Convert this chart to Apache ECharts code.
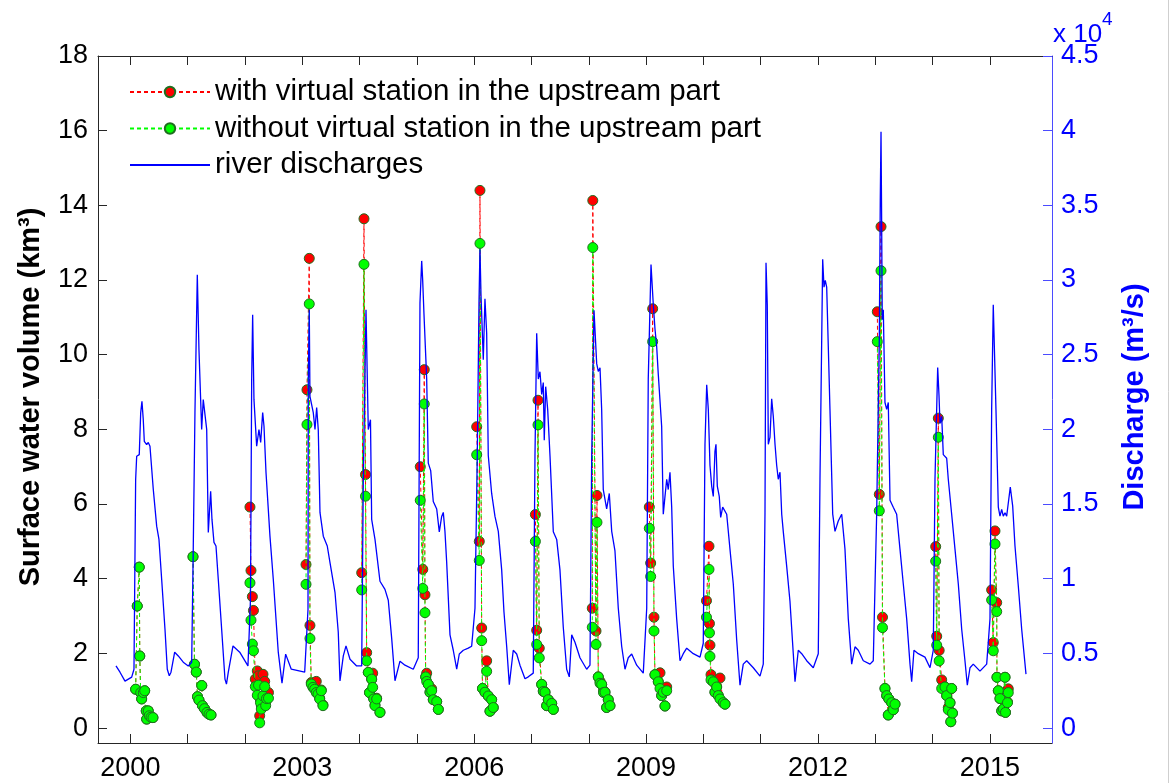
<!DOCTYPE html>
<html><head><meta charset="utf-8">
<script src="https://cdn.jsdelivr.net/npm/echarts@6/dist/echarts.min.js"></script>
<style>html,body{margin:0;padding:0;background:#fff}#c{width:1172px;height:783px}</style>
</head><body><div id="c"></div>
<script>
// ---------- data ----------
const tickYears = [2000,2001,2002,2003,2004,2005,2006,2007,2008,2009,2010,2011,2012,2013,2014,2015];
const labelYears = [2000,2003,2006,2009,2012,2015];
const volumeTicks = [0,2,4,6,8,10,12,14,16,18];
const dischargeTicks = [0,5000,10000,15000,20000,25000,30000,35000,40000,45000];
const seriesNames = ['with virtual station in the upstream part','without virtual station in the upstream part','river discharges'];

// river discharge [decimal year, m3/s]
const discharge = [
[1999.749,4160],[1999.819,3740],[1999.906,3140],[2000.023,3410],[2000.063,3940],[2000.092,16640],[2000.110,18200],[2000.155,18310],[2000.180,21100],[2000.202,21880],[2000.225,20650],[2000.243,19200],[2000.284,18980],[2000.312,19120],[2000.342,18870],[2000.400,15970],[2000.459,13520],[2000.499,12630],[2000.546,9960],[2000.604,6620],[2000.644,3940],[2000.679,3500],[2000.709,3740],[2000.773,5080],[2000.836,4830],[2000.923,4410],[2001.010,4160],[2001.070,4410],[2001.098,12190],[2001.127,21120],[2001.168,30350],
[2001.197,25330],[2001.244,19990],[2001.272,21990],[2001.302,22120],[2001.332,19990],[2001.360,13100],[2001.401,15860],[2001.424,13970],[2001.459,12430],[2001.494,12190],[2001.534,9960],[2001.593,6620],[2001.651,3280],[2001.677,2940],[2001.709,3740],[2001.791,5500],[2001.908,5080],[2002.052,4160],[2002.096,8620],[2002.117,23330],[2002.134,27670],
[2002.157,21990],[2002.204,18870],[2002.244,19990],[2002.274,19120],[2002.309,21120],[2002.332,20210],[2002.367,17110],[2002.436,12850],[2002.494,9960],[2002.581,5080],[2002.646,3010],[2002.710,4950],[2002.808,3940],[2003.042,3740],[2003.100,7950],[2003.105,23330],[2003.122,28010],
[2003.134,22210],[2003.192,21120],[2003.222,19990],[2003.251,21460],[2003.279,19990],[2003.309,14440],[2003.367,12850],[2003.436,12190],[2003.483,11100],[2003.571,9090],[2003.628,6420],[2003.658,3160],[2003.716,4830],[2003.763,5500],[2003.833,4610],[2003.949,4160],[2004.037,4160],[2004.065,16640],[2004.112,28010],
[2004.152,19990],[2004.190,20650],[2004.211,13970],[2004.269,12630],[2004.356,9830],[2004.443,9290],[2004.501,8560],[2004.560,6020],[2004.618,3170],[2004.705,4480],[2004.792,4210],[2004.937,3940],[2005.024,4710],[2005.054,28470],[2005.084,31280],
[2005.101,30010],[2005.124,27710],[2005.154,27840],[2005.171,23390],[2005.199,17740],[2005.241,17240],[2005.286,15170],[2005.346,14670],[2005.391,13140],[2005.433,14170],[2005.461,14440],[2005.490,13170],[2005.520,11100],[2005.578,6240],[2005.635,5210],[2005.695,3940],[2005.740,4960],[2005.810,5210],[2005.897,5350],[2005.956,5480],[2006.014,8020],[2006.054,18250],[2006.084,28470],[2006.101,32060],
[2006.119,29010],[2006.159,24660],[2006.188,28740],[2006.218,26430],[2006.246,18250],[2006.305,15710],[2006.363,14170],[2006.421,13170],[2006.480,10590],[2006.520,7770],[2006.567,5480],[2006.613,2910],[2006.682,5210],[2006.742,4960],[2006.799,4210],[2006.887,3300],[2006.944,3430],[2007.031,3680],[2007.061,18250],[2007.091,26430],
[2007.119,23370],[2007.148,23860],[2007.178,22340],[2007.206,23130],[2007.223,19280],[2007.248,22860],[2007.283,21320],[2007.323,18250],[2007.381,13140],[2007.440,12630],[2007.497,10590],[2007.555,6750],[2007.614,3940],[2007.660,3430],[2007.702,6240],[2007.759,5750],[2007.846,4710],[2007.963,3940],[2008.021,4210],[2008.051,18250],[2008.091,27970],
[2008.138,24400],[2008.166,23880],[2008.196,24130],[2008.225,21320],[2008.253,15970],[2008.312,14670],[2008.358,15710],[2008.400,13170],[2008.457,11860],[2008.515,8020],[2008.574,5480],[2008.632,3940],[2008.689,4710],[2008.749,4960],[2008.836,4210],[2008.951,3680],[2009.011,8020],[2009.038,23370],[2009.086,31030],
[2009.126,28340],[2009.155,26740],[2009.185,25540],[2009.213,23680],[2009.243,23680],[2009.272,20190],[2009.300,14320],[2009.330,15510],[2009.360,16660],[2009.387,15970],[2009.417,17130],[2009.447,14790],[2009.475,10830],[2009.534,7310],[2009.592,4510],[2009.649,4980],[2009.709,5350],[2009.824,4980],[2009.941,4750],[2009.998,5680],[2010.028,19000],[2010.058,22990],
[2010.086,21340],[2010.115,17600],[2010.145,16200],[2010.173,15510],[2010.202,18530],[2010.220,19000],[2010.243,16200],[2010.277,15510],[2010.302,14100],[2010.337,14790],[2010.407,14320],[2010.464,11980],[2010.522,9650],[2010.581,5910],[2010.639,2870],[2010.696,4280],[2010.756,4510],[2010.871,4040],[2010.988,3480],[2011.045,4280],[2011.075,14320],[2011.093,31150],
[2011.115,28340],[2011.133,19000],[2011.162,19460],[2011.192,22040],[2011.220,20870],[2011.250,19000],[2011.279,17600],[2011.307,16660],[2011.337,17130],[2011.367,14320],[2011.394,13170],[2011.454,10830],[2011.511,8490],[2011.569,4980],[2011.599,3110],[2011.656,5210],[2011.716,4980],[2011.803,4510],[2011.918,4040],[2012.005,4980],[2012.035,16660],[2012.082,31390],
[2012.105,29520],[2012.127,29980],[2012.152,29520],[2012.180,25540],[2012.209,21340],[2012.257,14320],[2012.297,13170],[2012.354,13860],[2012.414,14320],[2012.471,11980],[2012.529,7310],[2012.588,4280],[2012.646,5440],[2012.703,5210],[2012.791,4510],[2012.908,4280],[2012.965,4510],[2013.024,14320],[2013.070,26010],[2013.087,35360],[2013.100,39920],
[2013.112,33350],[2013.122,27340],[2013.140,28010],[2013.169,21800],[2013.199,21340],[2013.227,21800],[2013.257,15260],[2013.314,14790],[2013.373,14320],[2013.431,11980],[2013.489,9650],[2013.548,7310],[2013.606,4280],[2013.635,3110],[2013.675,5210],[2013.750,4980],[2013.867,4750],[2013.955,4040],[2014.012,5210],[2014.042,16660],[2014.089,24140],
[2014.112,22270],[2014.129,20400],[2014.159,20870],[2014.187,18310],[2014.246,18070],[2014.274,16660],[2014.333,14320],[2014.391,11980],[2014.449,9650],[2014.508,6620],[2014.565,4510],[2014.606,2870],[2014.653,4040],[2014.710,4280],[2014.827,3810],[2014.944,4280],[2015.002,7310],[2015.031,21340],[2015.059,28340],
[2015.106,21340],[2015.147,14790],[2015.176,14190],[2015.206,14640],[2015.234,14190],[2015.264,14420],[2015.293,14190],[2015.321,14100],[2015.356,16140],[2015.398,14860],[2015.438,12190],[2015.496,9510],[2015.555,6620],[2015.630,3610]
];

// surface water volume [decimal year, with VS (km3), without VS (km3)]; null = gap between years
const volumeRows = [
[2000.092,1.04,1.04],[2000.120,3.27,3.27],[2000.155,4.31,4.31],[2000.164,1.93,1.93],[2000.180,0.95,0.95],[2000.197,0.78,0.78],[2000.225,0.95,0.95],[2000.250,1.00,1.00],[2000.277,0.46,0.46],[2000.284,0.24,0.24],[2000.312,0.46,0.46],[2000.330,0.33,0.33],[2000.360,0.29,0.29],[2000.394,0.28,0.28],
null,
[2001.093,4.59,4.59],[2001.119,1.71,1.71],[2001.150,1.50,1.50],[2001.171,0.84,0.84],[2001.197,0.75,0.75],[2001.246,1.14,1.14],[2001.258,0.60,0.60],[2001.293,0.52,0.52],[2001.337,0.42,0.42],[2001.372,0.37,0.37],[2001.407,0.35,0.35],
null,
[2002.087,5.92,3.89],[2002.105,4.22,2.89],[2002.129,3.52,2.25],[2002.148,3.15,2.07],[2002.180,1.31,1.11],[2002.215,1.53,0.88],[2002.236,1.40,1.15],[2002.257,0.33,0.14],[2002.271,0.75,0.68],[2002.285,0.60,0.51],[2002.314,1.44,0.86],[2002.344,1.25,1.11],[2002.361,0.70,0.60],[2002.375,0.86,0.79],[2002.410,0.95,0.80],
null,
[2003.065,4.38,3.85],[2003.082,9.06,8.13],[2003.122,12.58,11.36],[2003.134,2.75,2.40],[2003.157,1.22,1.18],[2003.187,1.10,1.09],[2003.216,1.05,1.04],[2003.244,1.25,0.95],[2003.274,0.92,0.91],[2003.304,0.80,0.78],[2003.332,1.02,1.00],[2003.361,0.62,0.60],
null,
[2004.037,4.16,3.70],[2004.077,13.64,12.42],[2004.103,6.79,6.21],[2004.124,2.02,1.80],[2004.152,1.49,1.49],[2004.173,0.95,0.95],[2004.211,1.31,1.31],[2004.229,1.47,1.09],[2004.246,0.80,0.78],[2004.269,0.62,0.60],[2004.298,0.80,0.78],[2004.356,0.42,0.42],
null,
[2005.059,7.00,6.10],[2005.103,4.25,3.74],[2005.129,9.60,8.68],[2005.141,3.57,3.09],[2005.154,1.37,1.37],[2005.171,1.47,1.25],[2005.199,1.17,1.17],[2005.229,0.96,0.96],[2005.258,1.05,1.00],[2005.286,0.76,0.76],[2005.346,0.71,0.71],[2005.374,0.50,0.50],
null,
[2006.044,8.07,7.32],[2006.089,5.00,4.49],[2006.101,14.40,12.98],[2006.131,2.68,2.34],[2006.145,1.06,1.06],[2006.188,0.96,0.96],[2006.218,1.80,1.52],[2006.246,0.86,0.86],[2006.276,0.45,0.45],[2006.305,0.76,0.76],[2006.333,0.55,0.55],
null,
[2007.068,5.72,5.00],[2007.091,2.62,2.24],[2007.114,8.78,8.12],[2007.136,2.14,1.88],[2007.178,1.17,1.17],[2007.206,1.00,0.98],[2007.236,0.96,0.96],[2007.265,0.60,0.60],[2007.293,0.76,0.76],[2007.353,0.66,0.66],[2007.381,0.50,0.50],
null,
[2008.061,3.21,2.70],[2008.070,14.13,12.87],[2008.126,2.60,2.24],[2008.143,6.23,5.51],[2008.166,1.37,1.37],[2008.196,1.25,1.20],[2008.225,1.17,1.17],[2008.257,1.00,0.95],[2008.283,0.96,0.96],[2008.312,0.55,0.55],[2008.340,0.76,0.76],[2008.370,0.60,0.60],
null,
[2009.056,5.92,5.35],[2009.080,4.42,4.06],[2009.115,11.23,10.35],[2009.138,2.97,2.60],[2009.155,1.43,1.43],[2009.213,1.24,1.24],[2009.243,1.48,1.06],[2009.272,0.87,0.87],[2009.300,0.96,0.96],[2009.330,0.59,0.59],[2009.360,1.10,1.00],
null,
[2010.054,3.41,2.97],[2010.098,4.87,4.25],[2010.106,2.80,2.55],[2010.115,2.22,1.92],[2010.133,1.43,1.29],[2010.173,1.24,1.24],[2010.202,0.96,0.96],[2010.232,1.10,1.10],[2010.260,0.87,0.87],[2010.290,1.34,0.78],[2010.347,0.68,0.68],[2010.377,0.64,0.64],
null,
[2013.035,11.15,10.35],[2013.070,6.26,5.82],[2013.100,13.43,12.25],[2013.126,2.97,2.69],[2013.169,1.06,1.06],[2013.199,0.87,0.87],[2013.227,0.35,0.35],[2013.236,0.78,0.78],[2013.286,0.68,0.68],[2013.314,0.49,0.49],[2013.344,0.64,0.64],
null,
[2014.054,4.86,4.47],[2014.072,2.46,2.22],[2014.100,8.30,7.79],[2014.115,2.08,1.80],[2014.159,1.29,1.06],[2014.216,1.10,1.10],[2014.246,0.87,0.87],[2014.274,0.55,0.49],[2014.304,0.68,0.68],[2014.318,0.17,0.17],[2014.333,1.06,1.06],[2014.347,0.40,0.40],
null,
[2015.031,3.70,3.43],[2015.059,2.29,2.07],[2015.089,5.28,4.93],[2015.119,3.36,3.12],[2015.124,1.36,1.36],[2015.147,1.00,1.00],[2015.176,0.79,0.79],[2015.206,0.46,0.46],[2015.234,0.51,0.51],[2015.264,1.36,1.36],[2015.272,0.42,0.42],[2015.307,0.70,0.68],[2015.321,1.05,0.95]
];

// ---------- chart ----------
const FONT = '"Liberation Sans", Arial, Helvetica, sans-serif';
const AXIS_BLACK = '#262626';
const BLUE = '#0000ff';
const X_MIN = 1999.435, X_MAX = 2016.084;

const withData = volumeRows.map(r => r ? [r[0], r[1]] : [null, null]);
const withoutData = volumeRows.map(r => r ? [r[0], r[2]] : [null, null]);

const xAxisCommon = {
  type: 'value', min: X_MIN, max: X_MAX,
  axisLine: {show: true, onZero: false, lineStyle: {color: AXIS_BLACK, width: 1}},
  axisTick: {show: true, inside: true, length: 9, customValues: tickYears, lineStyle: {color: AXIS_BLACK, width: 1}},
  splitLine: {show: false}
};

const chart = echarts.init(document.getElementById('c'), null, {renderer: 'canvas'});
chart.setOption({
  animation: false,
  backgroundColor: '#ffffff',
  textStyle: {fontFamily: FONT},
  grid: {left: 98, top: 56, width: 954, height: 687, show: false},
  legend: {
    orient: 'vertical', left: 129, top: 77, padding: 0,
    itemWidth: 80, itemHeight: 13, itemGap: 6.5,
    textStyle: {fontSize: 29.5, color: '#000', fontFamily: FONT},
    data: [
      {name: seriesNames[0]},
      {name: seriesNames[1]},
      {name: seriesNames[2], itemStyle: {color: 'rgba(0,0,0,0)', borderWidth: 0, opacity: 0}}
    ]
  },
  xAxis: [
    Object.assign({}, xAxisCommon, {
      position: 'bottom',
      axisLabel: {customValues: labelYears, fontSize: 27, color: '#000', margin: 12, fontFamily: FONT, formatter: v => String(Math.round(v))}
    }),
    Object.assign({}, xAxisCommon, {
      position: 'top',
      axisLabel: {show: false}
    })
  ],
  yAxis: [
    {
      type: 'value', min: -0.4, max: 18, position: 'left',
      axisLine: {show: true, onZero: false, lineStyle: {color: AXIS_BLACK, width: 1}},
      axisTick: {show: true, inside: true, length: 9, customValues: volumeTicks, lineStyle: {color: AXIS_BLACK}},
      axisLabel: {customValues: volumeTicks, fontSize: 27, color: '#000', margin: 10, fontFamily: FONT},
      splitLine: {show: false}
    },
    {
      type: 'value', min: -1000, max: 45000, position: 'right',
      axisLine: {show: true, onZero: false, lineStyle: {color: '#4b4bff', width: 1}},
      axisTick: {show: true, inside: true, length: 9, customValues: dischargeTicks, lineStyle: {color: '#4b4bff'}},
      axisLabel: {customValues: dischargeTicks, fontSize: 27, color: BLUE, margin: 9, fontFamily: FONT, formatter: v => String(v / 10000)},
      splitLine: {show: false}
    }
  ],
  series: [
    {
      name: seriesNames[0], type: 'line', xAxisIndex: 0, yAxisIndex: 0, z: 2,
      data: withData, connectNulls: false,
      symbol: 'circle', symbolSize: 10, showAllSymbol: true,
      lineStyle: {color: '#ff0000', width: 1, type: [4, 3]},
      itemStyle: {color: '#ff0000', borderColor: '#1f6f1f', borderWidth: 1},
      emphasis: {disabled: true}
    },
    {
      name: seriesNames[1], type: 'line', xAxisIndex: 0, yAxisIndex: 0, z: 3,
      data: withoutData, connectNulls: false,
      symbol: 'circle', symbolSize: 10, showAllSymbol: true,
      lineStyle: {color: '#00ff00', width: 1, type: [4, 3]},
      itemStyle: {color: '#00ff00', borderColor: '#1f6f1f', borderWidth: 1},
      emphasis: {disabled: true}
    },
    {
      name: seriesNames[2], type: 'line', xAxisIndex: 0, yAxisIndex: 1, z: 4,
      data: discharge, symbol: 'none', showSymbol: false,
      lineStyle: {color: BLUE, width: 1.3},
      itemStyle: {color: BLUE},
      emphasis: {disabled: true}
    }
  ],
  graphic: [
    {type: 'text', x: 31, y: 397, rotation: Math.PI / 2,
     style: {text: 'Surface water volume (km³)', font: 'bold 29px ' + FONT, fill: '#000', align: 'center', verticalAlign: 'middle'}},
    {type: 'text', x: 1135, y: 397, rotation: Math.PI / 2,
     style: {text: 'Discharge (m³/s)', font: 'bold 29px ' + FONT, fill: BLUE, align: 'center', verticalAlign: 'middle'}},
    {type: 'text', x: 1053, y: 35,
     style: {text: 'x 10', font: '26px ' + FONT, fill: BLUE, align: 'left', verticalAlign: 'middle'}},
    {type: 'text', x: 1102, y: 20,
     style: {text: '4', font: '19px ' + FONT, fill: BLUE, align: 'left', verticalAlign: 'middle'}},
    {type: 'line', shape: {x1: 1168.5, y1: 0, x2: 1168.5, y2: 783}, style: {stroke: '#cfcfcf', lineWidth: 1}}
  ]
});
</script>
</body></html>
